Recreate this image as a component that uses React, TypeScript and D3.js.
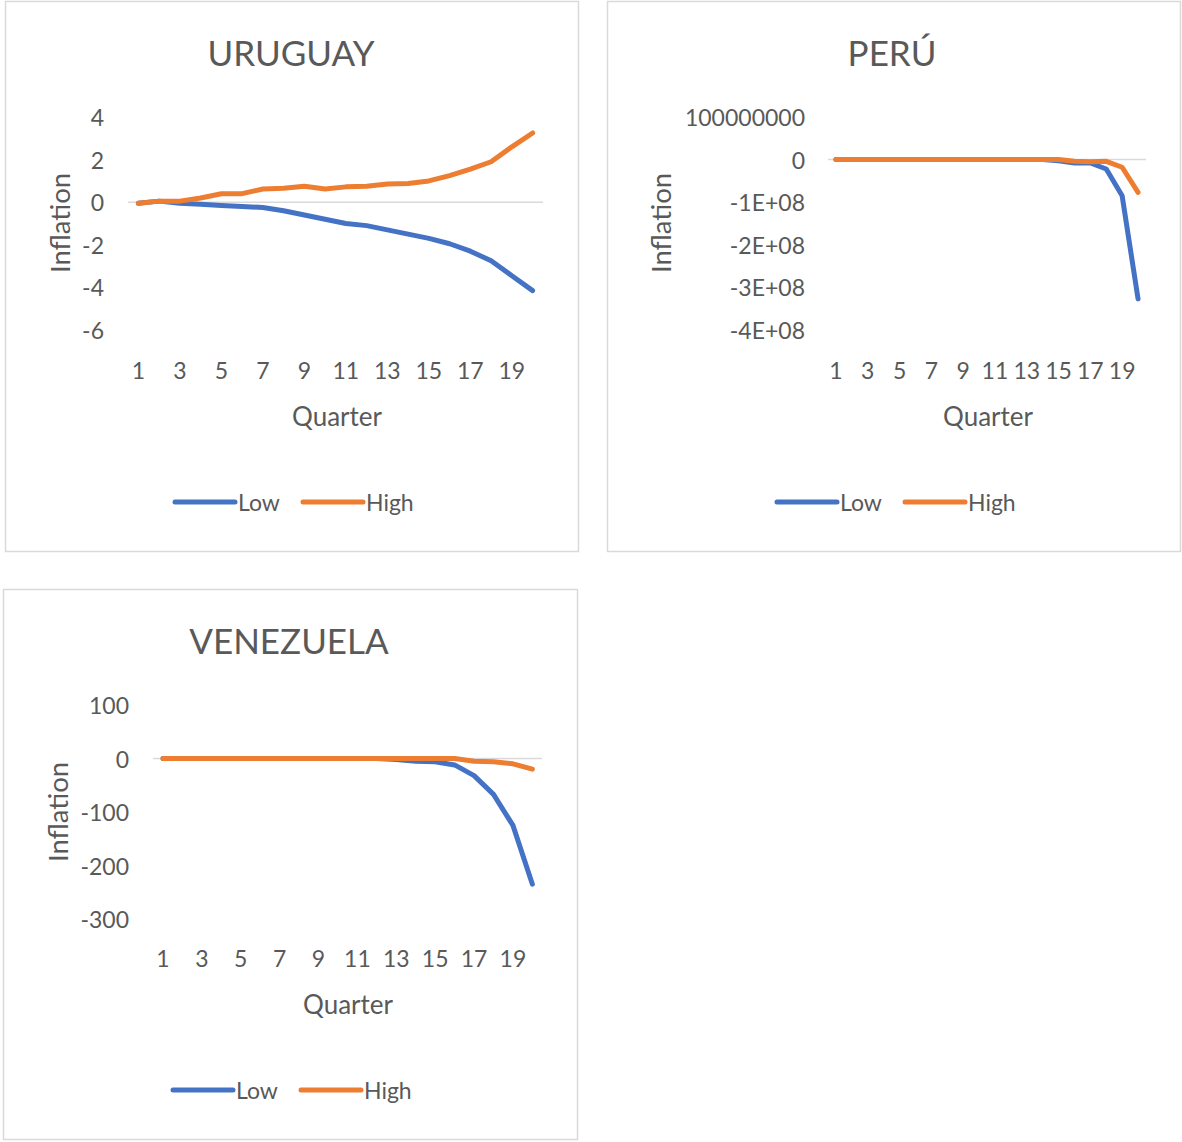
import React from "react";
import * as d3 from "d3";

const quarters = [1, 2, 3, 4, 5, 6, 7, 8, 9, 10, 11, 12, 13, 14, 15, 16, 17, 18, 19, 20];
const xTickLabels = [1, 3, 5, 7, 9, 11, 13, 15, 17, 19];

const uruguayLow = [-0.05, 0.05, -0.05, -0.1, -0.15, -0.2, -0.25, -0.4, -0.6, -0.8, -1.0, -1.1, -1.3, -1.5, -1.7, -1.95, -2.3, -2.75, -3.45, -4.15];
const uruguayHigh = [-0.05, 0.05, 0.05, 0.2, 0.4, 0.4, 0.62, 0.65, 0.75, 0.62, 0.72, 0.75, 0.85, 0.88, 1.0, 1.25, 1.55, 1.9, 2.6, 3.25];
const uruguayTicks = [4, 2, 0, -2, -4, -6];
const uruguayTickLabels = ["4", "2", "0", "-2", "-4", "-6"];

const peruLow = [0, 0, 0, 0, 0, 0, 0, 0, 0, 0, 0, 0, 0, 0, -3e6, -8e6, -8e6, -2.2e7, -8.5e7, -3.27e8];
const peruHigh = [0, 0, 0, 0, 0, 0, 0, 0, 0, 0, 0, 0, 0, 0, 0, -4e6, -5e6, -4e6, -1.8e7, -7.7e7];
const peruTicks = [1e8, 0, -1e8, -2e8, -3e8, -4e8];
const peruTickLabels = ["100000000", "0", "-1E+08", "-2E+08", "-3E+08", "-4E+08"];

const venezuelaLow = [0, 0, 0, 0, 0, 0, 0, 0, 0, 0, 0, 0, -2, -5, -6, -12, -32, -67, -125, -235];
const venezuelaHigh = [0, 0, 0, 0, 0, 0, 0, 0, 0, 0, 0, 0, 0, 0, 0, 0, -5, -6, -10, -20];
const venezuelaTicks = [100, 0, -100, -200, -300];
const venezuelaTickLabels = ["100", "0", "-100", "-200", "-300"];

const seriesNames = ["Low", "High"];
const seriesColors = ["#4472C4", "#ED7D31"];

const FONT = "Lato, 'Open Sans', sans-serif";
const TEXT = "#595959";

type PanelCfg = {
  title: string;
  box: [number, number, number, number];
  xRange: [number, number];
  yPix: [number, number];
  ticks: number[];
  tickLabels: string[];
  low: number[];
  high: number[];
  labelRight: number;
  xLabelY: number;
  titleX: number;
  titleY: number;
  quarterX: number;
  quarterY: number;
  inflX: number;
  inflY: number;
  legendX: number;
  legendY: number;
};

function Panel({ c }: { c: PanelCfg }) {
  const x = d3.scalePoint<number>().domain(quarters).range(c.xRange).padding(0.5);
  const y = d3
    .scaleLinear()
    .domain([c.ticks[0], c.ticks[c.ticks.length - 1]])
    .range(c.yPix);
  const line = d3
    .line<number>()
    .x((_, i) => x(quarters[i]) as number)
    .y((d) => y(d));
  const series = [c.low, c.high];
  return (
    <g>
      <rect x={c.box[0]} y={c.box[1]} width={c.box[2]} height={c.box[3]} fill="#fff" stroke="#d9d9d9" strokeWidth={1.5} />
      <text x={c.titleX} y={c.titleY} textAnchor="middle" dominantBaseline="central" fontSize={35} fill={TEXT} fontFamily={FONT}>
        {c.title}
      </text>
      <line x1={c.xRange[0]} x2={c.xRange[1]} y1={y(0)} y2={y(0)} stroke="#d9d9d9" strokeWidth={1.5} />
      {c.ticks.map((t, i) => (
        <text key={i} x={c.labelRight} y={y(t)} textAnchor="end" dominantBaseline="central" fontSize={23} fill={TEXT} fontFamily={FONT}>
          {c.tickLabels[i]}
        </text>
      ))}
      {xTickLabels.map((q) => (
        <text key={q} x={x(q) as number} y={c.xLabelY} textAnchor="middle" dominantBaseline="central" fontSize={23} fill={TEXT} fontFamily={FONT}>
          {q}
        </text>
      ))}
      <text x={c.quarterX} y={c.quarterY} textAnchor="middle" dominantBaseline="central" fontSize={26} fill={TEXT} fontFamily={FONT}>
        Quarter
      </text>
      <text
        transform={`translate(${c.inflX},${c.inflY}) rotate(-90)`}
        textAnchor="middle"
        dominantBaseline="central"
        fontSize={27.5}
        fill={TEXT}
        fontFamily={FONT}
      >
        Inflation
      </text>
      {series.map((s, i) => (
        <path key={i} d={line(s) || ""} fill="none" stroke={seriesColors[i]} strokeWidth={5} strokeLinejoin="round" strokeLinecap="round" />
      ))}
      {seriesNames.map((n, i) => {
        const lx = c.legendX + i * 128;
        return (
          <g key={n}>
            <line x1={lx} x2={lx + 60} y1={c.legendY} y2={c.legendY} stroke={seriesColors[i]} strokeWidth={5} strokeLinecap="round" />
            <text x={lx + 63} y={c.legendY} dominantBaseline="central" fontSize={23} fill={TEXT} fontFamily={FONT}>
              {n}
            </text>
          </g>
        );
      })}
    </g>
  );
}

const panels: PanelCfg[] = [
  {
    title: "URUGUAY",
    box: [5.5, 1.5, 573, 550],
    xRange: [128, 543],
    yPix: [117, 330],
    ticks: uruguayTicks,
    tickLabels: uruguayTickLabels,
    low: uruguayLow,
    high: uruguayHigh,
    labelRight: 104,
    xLabelY: 370,
    titleX: 291,
    titleY: 52,
    quarterX: 337,
    quarterY: 416,
    inflX: 59,
    inflY: 223,
    legendX: 175,
    legendY: 502,
  },
  {
    title: "PERÚ",
    box: [607.5, 1.5, 573, 550],
    xRange: [828, 1146],
    yPix: [117, 330],
    ticks: peruTicks,
    tickLabels: peruTickLabels,
    low: peruLow,
    high: peruHigh,
    labelRight: 805,
    xLabelY: 370,
    titleX: 892,
    titleY: 52,
    quarterX: 988,
    quarterY: 416,
    inflX: 660,
    inflY: 223,
    legendX: 777,
    legendY: 502,
  },
  {
    title: "VENEZUELA",
    box: [3.5, 589.5, 574, 550],
    xRange: [153.3, 542.1],
    yPix: [705, 919],
    ticks: venezuelaTicks,
    tickLabels: venezuelaTickLabels,
    low: venezuelaLow,
    high: venezuelaHigh,
    labelRight: 129,
    xLabelY: 958,
    titleX: 289,
    titleY: 640,
    quarterX: 348,
    quarterY: 1004,
    inflX: 57,
    inflY: 812,
    legendX: 173,
    legendY: 1090,
  },
];

export default function App() {
  return (
    <svg width={1182} height={1142} style={{ position: "absolute", left: 0, top: 0, background: "#fff" }}>
      <rect x={0} y={0} width={1182} height={1142} fill="#fff" />
      {panels.map((p) => (
        <Panel key={p.title} c={p} />
      ))}
    </svg>
  );
}
